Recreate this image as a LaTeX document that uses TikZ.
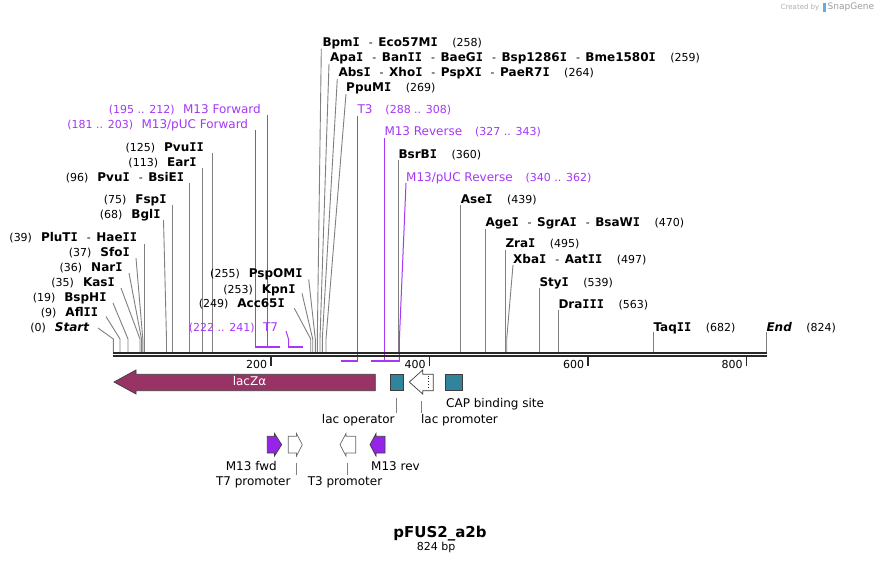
\documentclass[tikz,border=0pt]{standalone}
\usepackage{fontspec}
\setmainfont{DejaVu Sans}
\newfontfamily\dvmono{DejaVu Sans Mono}
\definecolor{maroon}{RGB}{153,51,102}
\definecolor{tealf}{RGB}{49,132,155}
\definecolor{primt}{RGB}{165,55,245}
\definecolor{primf}{RGB}{150,35,232}
\definecolor{enzg}{RGB}{128,128,128}
\definecolor{bbc}{RGB}{40,40,40}
\definecolor{sgray}{RGB}{175,175,175}
\definecolor{sgblue}{RGB}{100,170,230}
\newcommand\vI{{\dvmono\bfseries I}}
\newcommand\enzn[1]{{\fontsize{12}{12}\selectfont\bfseries #1}}
\newcommand\enzi[1]{{\fontsize{12}{12}\selectfont\bfseries\itshape #1}}
\newcommand\enzp[1]{{\fontsize{11}{11}\selectfont #1}}
\newcommand\dsh{\hspace{9pt}{\fontsize{11}{11}\selectfont -}\hspace{5.5pt}}
\newcommand\lgap{\hspace{9pt}}
\newcommand\rgap{\hspace{14.5pt}}
\newcommand\prn[1]{{\fontsize{12}{12}\selectfont #1}}
\tikzset{
  lbl/.style={inner sep=0pt, text height=8.7pt, text depth=0pt},
  lbll/.style={lbl, anchor=east},
  lblr/.style={lbl, anchor=west},
  plbll/.style={lbll, text=primt},
  plblr/.style={lblr, text=primt},
  enzl/.style={draw=enzg, line width=0.9pt},
  priml/.style={draw=primt, line width=1pt},
  primbar/.style={draw=primt, line width=2pt},
  feat/.style={draw=bbc!90, line width=0.7pt},
  flbl/.style={inner sep=0pt, font=\fontsize{12}{12}\selectfont, text height=8.7pt, text depth=2pt},
  leader/.style={draw=enzg, line width=0.8pt}
}
\newcommand\cut[3]{\draw[enzl] (#1,#2) -- (#3,339) -- (#3,352);}
\begin{document}
\begin{tikzpicture}[x=1pt,y=-1pt]
\fill[white] (0,0) rectangle (880,564);
\useasboundingbox (0,0) rectangle (880,564);

% --- cut lines
\cut{98}{328}{113.3}
\cut{106}{316.5}{120}
\cut{113}{303}{128}
\cut{121}{288}{140}
\cut{129}{273}{141.5}
\cut{136}{258}{142.8}
\cut{144.3}{244}{144.3}
\cut{163.5}{220}{166.5}
\cut{172.3}{205}{172.3}
\cut{189.4}{183}{189.4}
\cut{202.3}{168}{202.3}
\cut{212.3}{153}{212.3}
\cut{294.3}{308.3}{310.7}
\cut{302}{293.3}{312.7}
\cut{308.7}{279.3}{315.3}
\cut{321.3}{49}{317.3}
\cut{329}{64}{320}
\cut{337.3}{79}{322.3}
\cut{346}{94}{326}
\cut{398.3}{160}{398.3}
\cut{460.7}{205}{460.7}
\cut{485.3}{229}{485.3}
\cut{505.3}{250}{505.3}
\cut{513}{265}{506.7}
\cut{539.3}{288}{539.3}
\cut{558.3}{310}{558.3}
\cut{653.3}{332}{653.3}
\cut{766.3}{332}{766.3}

% --- primer lines and bars
\draw[priml] (255.2,130) -- (255.2,347);
\draw[priml] (267.3,115) -- (267.3,347);
\draw[primbar] (255,347) -- (280,347);
\draw[priml] (286,331) -- (288.5,339) -- (288.5,347);
\draw[primbar] (288,347) -- (302.5,347);
\draw[priml] (357.6,116) -- (357.6,360.5);
\draw[primbar] (341,360.5) -- (358.2,360.5);
\draw[priml] (384.3,138) -- (384.3,360.5);
\draw[priml] (406,183) -- (399.4,339) -- (399.4,360.5);
\draw[primbar] (371,360.5) -- (400,360.5);

% --- backbone
\draw[bbc, line width=2pt] (113,353) -- (767,353);
\draw[bbc, line width=2pt] (113,356.2) -- (767,356.2);
\foreach \tx/\tl in {270.8/200,429.3/400,587.8/600,746.3/800}{
  \draw[bbc, line width=1.5pt] (\tx,357) -- (\tx,365.5);
  \node[inner sep=0pt, anchor=east, font=\fontsize{11}{11}\selectfont, text height=8pt, text depth=0pt] at (\tx-3.5,364) {\tl};
}

% --- left labels
\node[plbll] (pM13F) at (261,109) {\enzp{(195 .. 212)}\hspace{8.5pt}\prn{M13 Forward}};
\node[plbll] (pM13pF) at (248.3,124.3) {\enzp{(181 .. 203)}\hspace{8.5pt}\prn{M13/pUC Forward}};
\node[lbll] (ePvuII) at (204,147.3) {\enzp{(125)}\lgap\enzn{Pvu\vI\vI}};
\node[lbll] (eEarI) at (196.7,162.3) {\enzp{(113)}\lgap\enzn{Ear\vI}};
\node[lbll] (ePvuI) at (184.3,177) {\enzp{(96)}\lgap\enzn{Pvu\vI}\dsh\enzn{BsiE\vI}};
\node[lbll] (eFspI) at (166.7,199.3) {\enzp{(75)}\lgap\enzn{Fsp\vI}};
\node[lbll] (eBglI) at (160.7,214) {\enzp{(68)}\lgap\enzn{Bgl\vI}};
\node[lbll] (ePluTI) at (137.3,236.7) {\enzp{(39)}\lgap\enzn{PluT\vI}\dsh\enzn{Hae\vI\vI}};
\node[lbll] (eSfoI) at (130,252.3) {\enzp{(37)}\lgap\enzn{Sfo\vI}};
\node[lbll] (eNarI) at (122.7,267) {\enzp{(36)}\lgap\enzn{Nar\vI}};
\node[lbll] (eKasI) at (115,281.7) {\enzp{(35)}\lgap\enzn{Kas\vI}};
\node[lbll] (eBspHI) at (106.7,297.3) {\enzp{(19)}\lgap\enzn{BspH\vI}};
\node[lbll] (eAflII) at (98.3,311.7) {\enzp{(9)}\lgap\enzn{Afl\vI\vI}};
\node[lbll] (eStart) at (89.3,326.7) {\enzp{(0)}\lgap\enzi{Start}};
\node[lbll] (ePspOMI) at (302.7,273.3) {\enzp{(255)}\lgap\enzn{PspOM\vI}};
\node[lbll] (eKpnI) at (295.7,289.3) {\enzp{(253)}\lgap\enzn{Kpn\vI}};
\node[lbll] (eAcc) at (285,303.3) {\enzp{(249)}\lgap\enzn{Acc65\vI}};
\node[plbll] (pT7) at (278.3,326.7) {\enzp{(222 .. 241)}\hspace{8.5pt}\prn{T7}};

% --- right labels
\node[lblr] (eBpmI) at (322.3,42.3) {\enzn{Bpm\vI}\dsh\enzn{Eco57M\vI}\rgap\enzp{(258)}};
\node[lblr] (eApaI) at (330,56.7) {\enzn{Apa\vI}\dsh\enzn{Ban\vI\vI}\dsh\enzn{BaeG\vI}\dsh\enzn{Bsp1286\vI}\dsh\enzn{Bme1580\vI}\rgap\enzp{(259)}};
\node[lblr] (eAbsI) at (338.3,71.7) {\enzn{Abs\vI}\dsh\enzn{Xho\vI}\dsh\enzn{PspX\vI}\dsh\enzn{PaeR7\vI}\rgap\enzp{(264)}};
\node[lblr] (ePpuMI) at (346,86.7) {\enzn{PpuM\vI}\rgap\enzp{(269)}};
\node[plblr] (pT3) at (357.3,109) {\prn{T3}\hspace{13pt}\enzp{(288 .. 308)}};
\node[plblr] (pM13R) at (384.3,131) {\prn{M13 Reverse}\hspace{13pt}\enzp{(327 .. 343)}};
\node[lblr] (eBsrBI) at (398.3,154) {\enzn{BsrB\vI}\rgap\enzp{(360)}};
\node[plblr] (pM13pR) at (406,176.7) {\prn{M13/pUC Reverse}\hspace{13pt}\enzp{(340 .. 362)}};
\node[lblr] (eAseI) at (460.7,199) {\enzn{Ase\vI}\rgap\enzp{(439)}};
\node[lblr] (eAgeI) at (485.3,222) {\enzn{Age\vI}\dsh\enzn{SgrA\vI}\dsh\enzn{BsaW\vI}\rgap\enzp{(470)}};
\node[lblr] (eZraI) at (505.3,243.3) {\enzn{Zra\vI}\rgap\enzp{(495)}};
\node[lblr] (eXbaI) at (513,259) {\enzn{Xba\vI}\dsh\enzn{Aat\vI\vI}\rgap\enzp{(497)}};
\node[lblr] (eStyI) at (539.3,282) {\enzn{Sty\vI}\rgap\enzp{(539)}};
\node[lblr] (eDraIII) at (558.3,304) {\enzn{Dra\vI\vI\vI}\rgap\enzp{(563)}};
\node[lblr] (eTaqII) at (653.3,326.7) {\enzn{Taq\vI\vI}\rgap\enzp{(682)}};
\node[lblr] (eEnd) at (766.3,326.7) {\enzi{End}\rgap\enzp{(824)}};

% --- features row 1
\draw[feat, fill=maroon] (114,382) -- (136,370) -- (136,374.3) -- (375.3,374.3) -- (375.3,390.7) -- (136,390.7) -- (136,394) -- cycle;
\node[flbl, text=white] (lacZ) at (249.5,382) {lacZα};
\draw[feat, fill=tealf] (390.3,374.3) rectangle (403.3,390.7);
\coordinate (lacop) at (396.8,397.5);
\draw[feat, fill=white] (409.3,382) -- (422.7,370) -- (422.7,374.3) -- (433.3,374.3) -- (433.3,390.7) -- (422.7,390.7) -- (422.7,394) -- cycle;
\draw[bbc, line width=0.8pt, dotted] (428.5,375.5) -- (428.5,389.5);
\coordinate (lacpr) at (421.3,400.5);
\draw[feat, fill=tealf] (445,374.3) rectangle (462.3,390.7);
\node[flbl] (tLacOp) at (358.3,420) {lac operator};
\node[flbl] (tLacPr) at (459.5,420) {lac promoter};
\node[flbl, anchor=west] (tCAP) at (446,404) {CAP binding site};
\draw[leader] (lacop) -- (396.8,412.7);
\draw[leader] (lacpr) -- (421.3,412.7);

% --- features row 2
\draw[feat, fill=primf] (267.3,436.3) -- (274.5,436.3) -- (274.5,433.5) -- (281.7,444.7) -- (274.5,456) -- (274.5,453) -- (267.3,453) -- cycle;
\draw[feat, fill=white, draw=bbc!70] (288.3,436.3) -- (296.5,436.3) -- (296.5,433.5) -- (302.3,444.7) -- (296.5,456) -- (296.5,453) -- (288.3,453) -- cycle;
\draw[feat, fill=white, draw=bbc!70] (355.7,436.3) -- (346,436.3) -- (346,433.5) -- (340,444.7) -- (346,456) -- (346,453) -- (355.7,453) -- cycle;
\draw[feat, fill=primf] (385,436.3) -- (376,436.3) -- (376,433.5) -- (370,444.7) -- (376,456) -- (376,453) -- (385,453) -- cycle;
\node[flbl] (tM13f) at (251.3,466.7) {M13 fwd};
\node[flbl] (tT7) at (253.3,481.7) {T7 promoter};
\node[flbl] (tT3) at (345,481.7) {T3 promoter};
\node[flbl] (tM13r) at (395.5,466.7) {M13 rev};
\draw[leader] (296,463.3) -- (296,475);
\draw[leader] (347.3,463.3) -- (347.3,475);

% --- title
\node[inner sep=0pt, font=\fontsize{15}{15}\selectfont\bfseries] (title) at (440,533.3) {pFUS2\_a2b};
\node[inner sep=0pt, font=\fontsize{11}{11}\selectfont] (size) at (436.2,547.5) {824 bp};

% --- credit
\node[inner sep=0pt, anchor=east, text=sgray, font=\fontsize{7}{7}\selectfont] (cred) at (819.5,7.5) {Created by};
\fill[sgblue] (822.5,3) rectangle (825.5,12);
\node[inner sep=0pt, anchor=west, text=sgray!90!black, font=\fontsize{9}{9}\selectfont] (sg) at (827.5,7.5) {SnapGene};
\end{tikzpicture}
\end{document}
